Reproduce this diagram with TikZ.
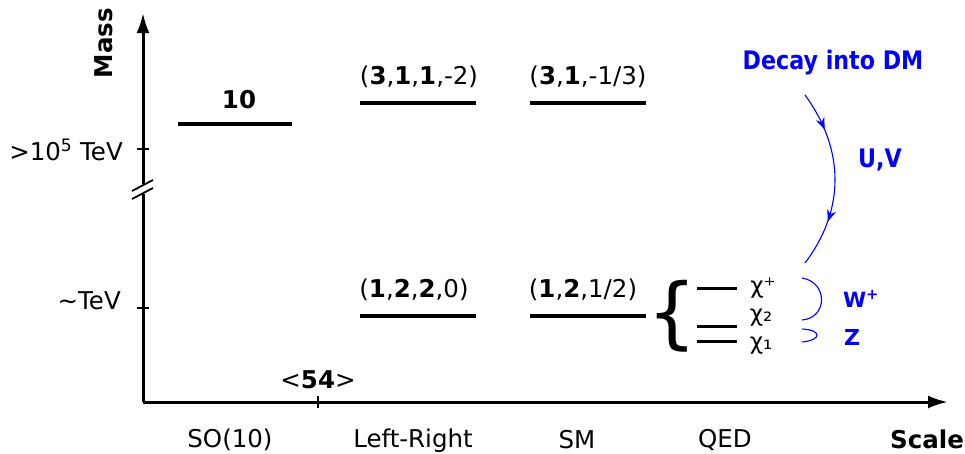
\documentclass[tikz,border=0pt]{standalone}
\usepackage{fontspec}
\setmainfont{DejaVu Sans}
\newfontfamily\narrowfont[FakeStretch=0.87]{DejaVu Sans}
\usetikzlibrary{arrows.meta,decorations.markings}
\begin{document}
\begin{tikzpicture}[x=1pt,y=-1pt,
  lbl/.style={inner sep=0pt,font=\fontsize{24.5}{28}\selectfont},
  blbl/.style={inner sep=0pt,font=\fontsize{24.5}{28}\selectfont\bfseries},
  bluelbl/.style={inner sep=0pt,text=blue,font=\narrowfont\fontsize{25.5}{28}\selectfont\bfseries},
  bluesmall/.style={inner sep=0pt,text=blue,font=\fontsize{21}{24}\selectfont\bfseries},
  bluez/.style={inner sep=0pt,text=blue,font=\fontsize{22}{26}\selectfont\bfseries},
  chilbl/.style={inner sep=0pt,font=\fontsize{23}{26}\selectfont},
  level/.style={line width=4.3pt},
  qedlevel/.style={line width=3pt},
  axis/.style={line width=3pt},
  axtip/.style={-{Latex[length=20pt,width=13pt]}},
  tick/.style={line width=1.2pt},
  bluearc/.style={blue,line width=1.1pt},
  midarrows/.style={postaction={decorate},decoration={markings,
     mark=at position 0.22 with {\arrow{Stealth[length=12pt,width=9pt]}},
     mark=at position 0.74 with {\arrow{Stealth[length=12pt,width=9pt]}}}}
]
\useasboundingbox (0,0) rectangle (965,453);
% axes
\coordinate (origin) at (143,402);
\coordinate (ytop) at (143,13);
\coordinate (xend) at (948,402);
\coordinate (brkU) at (143,184);
\coordinate (brkL) at (143,194);
\draw[axis] (origin) -- (brkL);
\draw[axis,axtip] (brkU) -- (ytop);
\draw[axis,axtip] (origin) -- (xend);
\draw[line width=1.8pt] (132,191) -- (153,180);
\draw[line width=1.8pt] (132,199) -- (153,188);
% ticks
\coordinate (t1a) at (137,149); \coordinate (t1b) at (149,149);
\coordinate (t2a) at (137,308); \coordinate (t2b) at (149,308);
\coordinate (t3a) at (318,396); \coordinate (t3b) at (318,408);
\draw[tick] (t1a) -- (t1b);
\draw[tick] (t2a) -- (t2b);
\draw[tick] (t3a) -- (t3b);
% axis labels
\node[blbl,rotate=90] (mass) at (104,43) {Mass};
\node[blbl] (scale) at (927,439) {Scale};
\node[lbl,anchor=east] (hi) at (123,150) {>10\textsuperscript{5} TeV};
\node[lbl,anchor=east] (tev) at (121,301) {\char"007E TeV};
\node[lbl] (fiftyfour) at (318,380) {<\textbf{54}>};
\node[lbl] (so10) at (230,440) {SO(10)};
\node[lbl] (lr) at (413,441) {Left-Right};
\node[lbl] (sm) at (577,440) {SM};
\node[lbl] (qed) at (725,440) {QED};
% levels
\draw[level] (178,124) coordinate (a1) -- (292,124) coordinate (a2);
\node[blbl] (ten) at (239,100) {10};
\draw[level] (360,103) coordinate (b1) -- (476,103) coordinate (b2);
\node[lbl] (r3112) at (419,77) {(\textbf{3},\textbf{1},\textbf{1},-2)};
\draw[level] (530,103) coordinate (c1) -- (646,103) coordinate (c2);
\node[lbl] (r3113) at (588,77) {(\textbf{3},\textbf{1},-1/3)};
\draw[level] (360,316) coordinate (d1) -- (476,316) coordinate (d2);
\node[lbl] (r1220) at (414,290) {(\textbf{1},\textbf{2},\textbf{2},0)};
\draw[level] (530,316) coordinate (e1) -- (646,316) coordinate (e2);
\node[lbl] (r1212) at (583,290) {(\textbf{1},\textbf{2},1/2)};
% brace and QED levels
\node[inner sep=0pt,font=\fontsize{78}{78}\selectfont] (brace) at (672,316) {\{};
\draw[qedlevel] (697,288) coordinate (q1) -- (737,288) coordinate (q2);
\draw[qedlevel] (697,326) coordinate (q3) -- (737,326) coordinate (q4);
\draw[qedlevel] (697,341) coordinate (q5) -- (737,341) coordinate (q6);
\node[chilbl] (chip) at (763,288) {χ⁺};
\node[chilbl] (chi2) at (761,318) {χ₂};
\node[chilbl] (chi1) at (761,346) {χ₁};
% blue annotations
\node[bluelbl] (decay) at (833,63) {Decay into DM};
\node[bluelbl] (uv) at (880,160) {U,V};
\node[bluesmall] (wp) at (861,299) {W\textsuperscript{+}};
\node[bluez] (z) at (852,337) {Z};
\coordinate (uvs) at (805,95);
\coordinate (uve) at (805,263);
\draw[bluearc,midarrows] (uvs) .. controls (845,150) and (845,210) .. (uve);
\coordinate (ws) at (802,278);
\coordinate (we) at (802,320);
\draw[bluearc] (ws) .. controls (828,282) and (828,318) .. (we);
\coordinate (zs) at (802,329);
\coordinate (ze) at (802,342);
\draw[bluearc] (zs) .. controls (822,330) and (822,340) .. (ze);
\end{tikzpicture}
\end{document}
